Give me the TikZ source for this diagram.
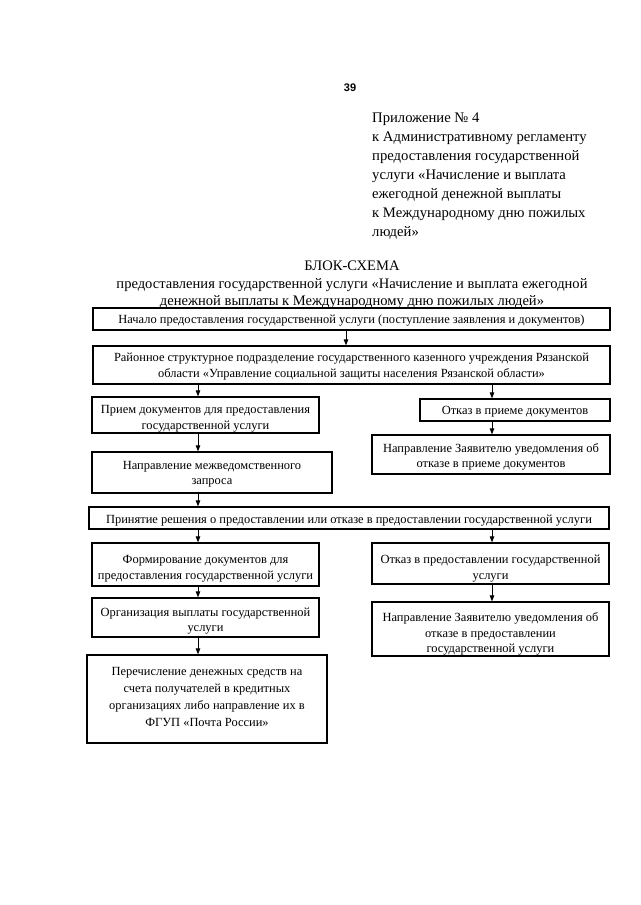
\documentclass[tikz,border=0pt]{standalone}
\usepackage{fontspec}
\setmainfont{Liberation Serif}
\setsansfont{Liberation Sans}
\usetikzlibrary{arrows.meta}
\begin{document}
\begin{tikzpicture}[x=1pt,y=-1pt,
  box/.style={draw=black, line width=1.2pt, inner sep=0pt},
  txt/.style={inner sep=0pt, align=center, font=\fontsize{12.45}{15.5}\selectfont},
  arr/.style={line width=0.9pt, -{Triangle[length=6pt,width=4.5pt]}},
  hdr/.style={inner sep=0pt, align=left, font=\fontsize{14.65}{19}\selectfont},
  ttl/.style={inner sep=0pt, align=center, font=\fontsize{14.55}{17.5}\selectfont}]
\useasboundingbox[fill=white] (0,0) rectangle (640,905);

\node[inner sep=0pt, font=\sffamily\bfseries\fontsize{11}{12}\selectfont] (pg) at (350,88) {39};

\node[hdr, anchor=north west] (app) at (372,113) {Приложение № 4\\
к Административному регламенту\\
предоставления государственной\\
услуги «Начисление и выплата\\
ежегодной денежной выплаты\\
к Международному дню пожилых\\
людей»};

\node[ttl, anchor=north] (title) at (352,261) {БЛОК-СХЕМА\\
предоставления государственной услуги «Начисление и выплата ежегодной\\
денежной выплаты к Международному дню пожилых людей»};

% boxes
\node[box, minimum width=517pt, minimum height=22pt] (b1) at (351.5,319) {};
\node[box, minimum width=517pt, minimum height=38pt] (b2) at (351.5,365) {};
\node[box, minimum width=227pt, minimum height=36pt] (b3) at (205.5,415) {};
\node[box, minimum width=190pt, minimum height=22pt] (b4) at (515,410) {};
\node[box, minimum width=238pt, minimum height=39pt] (b5) at (491,454.5) {};
\node[box, minimum width=240pt, minimum height=41pt] (b6) at (212,472.5) {};
\node[box, minimum width=520pt, minimum height=22pt] (b7) at (349,518) {};
\node[box, minimum width=227pt, minimum height=43pt] (b8) at (205.5,564.5) {};
\node[box, minimum width=237pt, minimum height=41pt] (b9) at (490.5,563.5) {};
\node[box, minimum width=227pt, minimum height=39pt] (b10) at (205.5,617.5) {};
\node[box, minimum width=237pt, minimum height=54pt] (b11) at (490.5,629) {};
\node[box, minimum width=240pt, minimum height=88pt] (b12) at (207,699) {};

% texts
\node[txt] (t1) at (351.5,321) {Начало предоставления государственной услуги (поступление заявления и документов)};
\node[txt] (t2) at (351.5,366.5) {Районное структурное подразделение государственного казенного учреждения Рязанской\\ области «Управление социальной защиты населения Рязанской области»};
\node[txt] (t3) at (205.5,419) {Прием документов для предоставления\\ государственной услуги};
\node[txt] (t4) at (515,412) {Отказ в приеме документов};
\node[txt] (t5) at (491,457) {Направление Заявителю уведомления об\\ отказе в приеме документов};
\node[txt] (t6) at (212,474) {Направление межведомственного\\ запроса};
\node[txt] (t7) at (349,521) {Принятие решения о предоставлении или отказе в предоставлении государственной услуги};
\node[txt] (t8) at (205.5,569) {Формирование документов для\\ предоставления государственной услуги};
\node[txt] (t9) at (490.5,568.5) {Отказ в предоставлении государственной\\ услуги};
\node[txt] (t10) at (205.5,621) {Организация выплаты государственной\\ услуги};
\node[txt] (t11) at (490.5,634) {Направление Заявителю уведомления об\\ отказе в предоставлении\\ государственной услуги};
\node[txt, font=\fontsize{12.45}{17}\selectfont] (t12) at (207,696.5) {Перечисление денежных средств на\\ счета получателей в кредитных\\ организациях либо направление их в\\ ФГУП «Почта России»};

\coordinate (cM) at (346,0);
\coordinate (cL) at (198,0);
\coordinate (cR) at (492,0);

\draw[arr] (b1.south -| cM) -- (b2.north -| cM);
\draw[arr] (b2.south -| cL) -- (b3.north -| cL);
\draw[arr] (b2.south -| cR) -- (b4.north -| cR);
\draw[arr] (b4.south -| cR) -- (b5.north -| cR);
\draw[arr] (b3.south -| cL) -- (b6.north -| cL);
\draw[arr] (b6.south -| cL) -- (b7.north -| cL);
\draw[arr] (b7.south -| cL) -- (b8.north -| cL);
\draw[arr] (b7.south -| cR) -- (b9.north -| cR);
\draw[arr] (b8.south -| cL) -- (b10.north -| cL);
\draw[arr] (b9.south -| cR) -- (b11.north -| cR);
\draw[arr] (b10.south -| cL) -- (b12.north -| cL);
\end{tikzpicture}
\end{document}
